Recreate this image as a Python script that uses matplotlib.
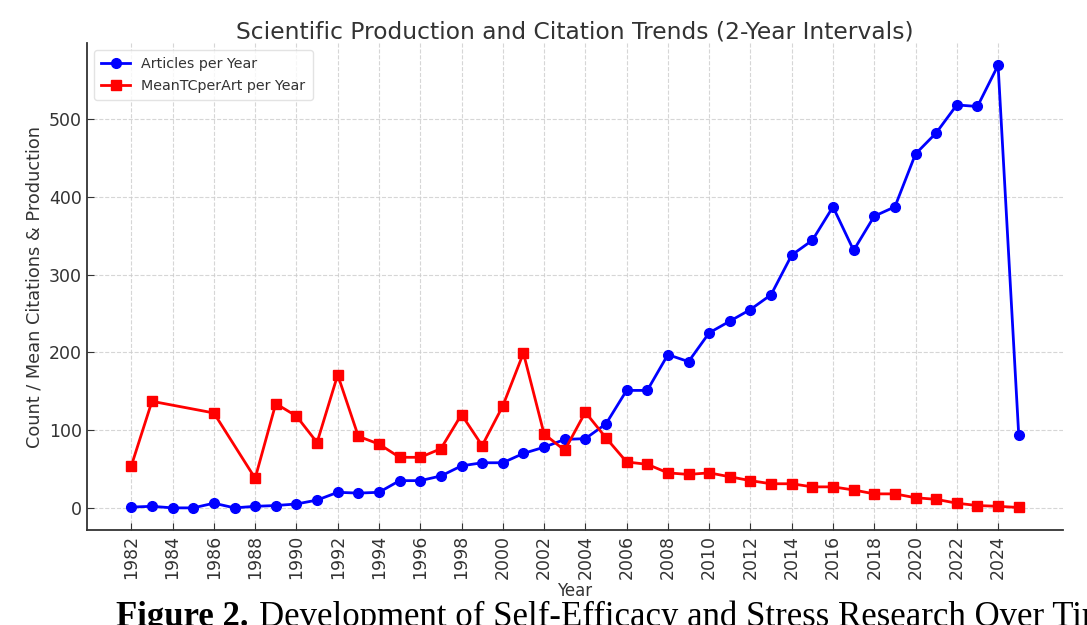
import matplotlib.pyplot as plt

# Years and series
years = list(range(1982, 2026))
articles = [1, 2, 0, 0, 6, 0, 2, 3, 5, 10,
            20, 19, 20, 35, 35, 41, 54, 58, 58, 70,
            78, 88, 89, 108, 151, 151, 197, 188, 225, 240,
            255, 274, 325, 344, 387, 331, 375, 387, 455, 482,
            518, 516, 569, 94]

tc_years = [1982, 1983, 1986] + list(range(1988, 2026))
mean_tc = [54, 137, 122, 38, 134, 118, 84, 171, 92, 82,
           65, 65, 76, 120, 80, 131, 199, 95, 74, 123,
           90, 59, 56, 45, 43, 45, 40, 35, 31, 31,
           27, 27, 23, 18, 18, 13, 11, 6, 3, 2,
           0.5]

tick_years = list(range(1982, 2025, 2))

title = "Scientific Production and Citation Trends (2-Year Intervals)"
caption_bold = "Figure 2."
caption_rest = "Development of Self-Efficacy and Stress Research Over Time"

text_color = "#333333"
plt.rcParams["font.family"] = "DejaVu Sans"

fig = plt.figure(figsize=(10.87, 6.25), dpi=100)
ax = fig.add_axes([0.080, 0.152, 0.898, 0.779])

ax.plot(years, articles, color="blue", marker="o", markersize=7,
        linewidth=2, label="Articles per Year")
ax.plot(tc_years, mean_tc, color="red", marker="s", markersize=7,
        linewidth=2, label="MeanTCperArt per Year")

ax.set_xticks(tick_years)
ax.set_xticklabels([str(y) for y in tick_years], rotation=90)
ax.tick_params(direction="in", labelsize=12.5, colors=text_color, length=5)
ax.set_title(title, fontsize=16.8, color=text_color, pad=3)
ax.set_xlabel("Year", fontsize=12, color=text_color, labelpad=2)
ax.set_ylabel("Count / Mean Citations & Production", fontsize=12.8,
              color=text_color)

ax.grid(True, linestyle="--", color="#cccccc", linewidth=0.8, alpha=0.8)
ax.set_axisbelow(True)
for side in ("top", "right"):
    ax.spines[side].set_visible(False)
for side in ("left", "bottom"):
    ax.spines[side].set_color(text_color)
    ax.spines[side].set_linewidth(1.3)

leg = ax.legend(loc="upper left", fontsize=10.3, frameon=True,
                edgecolor="#dddddd", borderpad=0.5)
for t in leg.get_texts():
    t.set_color(text_color)

# Caption below the chart (cut off at the bottom edge in the reference)
t1 = fig.text(0.107, -0.002, caption_bold, fontsize=25, fontweight="bold",
              family="Liberation Serif", va="baseline")
ax.annotate(caption_rest, xy=(1, 0), xycoords=t1, xytext=(7, 0),
            textcoords="offset points", va="bottom", fontsize=25,
            family="Liberation Serif", annotation_clip=False)

fig.savefig("out.png", dpi=100)
